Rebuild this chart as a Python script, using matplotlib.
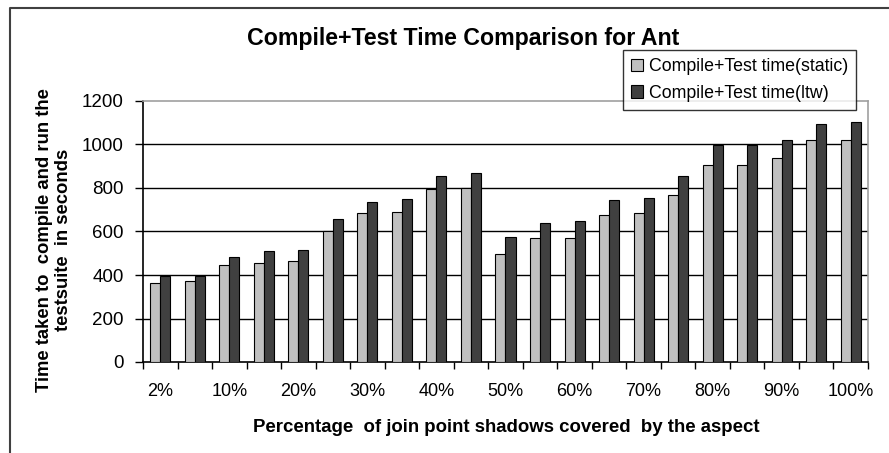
import numpy as np
import matplotlib
matplotlib.use("Agg")
import matplotlib.pyplot as plt
from matplotlib.lines import Line2D

categories = ["2%", "5%", "10%", "15%", "20%", "25%", "30%", "35%", "40%", "45%", "50%",
              "55%", "60%", "65%", "70%", "75%", "80%", "85%", "90%", "95%", "100%"]
static_vals = [365, 371, 445, 457, 463, 603, 683, 690, 796, 802, 497,
               571, 571, 677, 683, 770, 908, 908, 936, 1020, 1020]
ltw_vals = [396, 396, 485, 509, 516, 657, 735, 749, 855, 868, 577,
            638, 649, 743, 756, 855, 999, 999, 1020, 1096, 1105]
yticks = [0, 200, 400, 600, 800, 1000, 1200]

plt.rcParams['font.family'] = ['Liberation Sans', 'DejaVu Sans']

fig = plt.figure(figsize=(8.89, 4.53), dpi=100)
ax = fig.add_axes([143/889, 1-362/453, (868-143)/889, (362-101)/453])

x = np.arange(len(categories))
w = 0.29
ax.bar(x - w/2, static_vals, w, color="#c0c0c0", edgecolor="black", linewidth=0.8,
       label="Compile+Test time(static)", zorder=3)
ax.bar(x + w/2, ltw_vals, w, color="#404040", edgecolor="black", linewidth=0.8,
       label="Compile+Test time(ltw)", zorder=3)

ax.set_xlim(-0.5, len(categories) - 0.5)
ax.set_ylim(0, 1200)
ax.set_yticks(yticks)
ax.set_yticklabels([str(v) for v in yticks], fontsize=13.5)
for v in yticks[1:-1]:
    ax.axhline(v, color="black", linewidth=1.0, zorder=1)

# category boundary ticks
ax.set_xticks(np.arange(len(categories) + 1) - 0.5)
ax.set_xticklabels([])
ax.tick_params(axis='x', which='major', direction='out', length=5, width=1)
ax.set_xticks(x[::2], minor=True)
ax.set_xticklabels(categories[::2], minor=True, fontsize=13)
ax.tick_params(axis='x', which='minor', length=0, pad=15)
ax.tick_params(axis='y', direction='out', length=6, width=1, pad=8)

for s in ['top', 'right']:
    ax.spines[s].set_color('#a0a0a0')
    ax.spines[s].set_linewidth(1.2)
ax.spines['left'].set_linewidth(1.2)
ax.spines['bottom'].set_linewidth(1.2)

fig.text(463/889, 1-38/453, "Compile+Test Time Comparison for Ant", ha='center', va='center',
         fontsize=16.7, fontweight='bold')
fig.text(506/889, 1-428/453, "Percentage  of join point shadows covered  by the aspect",
         ha='center', va='center', fontsize=13.4, fontweight='bold')
fig.text(54/889, 1-240/453, "Time taken to  compile and run the\ntestsuite  in seconds",
         ha='center', va='center', rotation=90, fontsize=13.3, fontweight='bold',
         linespacing=1.1)

leg = fig.legend(loc='upper left', bbox_to_anchor=(623/889, 1-50/453),
                 bbox_transform=fig.transFigure, fontsize=12.8, frameon=True,
                 fancybox=False, handlelength=0.7, handleheight=0.7, handletextpad=0.3,
                 labelspacing=0.55, borderpad=0.45, borderaxespad=0)
leg.get_frame().set_edgecolor('black')
leg.get_frame().set_linewidth(1.0)

# outer chart frame
fig.add_artist(Line2D([10/889, 10/889, 1.0], [0.0, 1-8/453, 1-8/453],
                      transform=fig.transFigure, color='#404040', linewidth=1.5))

fig.savefig("out.png", dpi=100)
